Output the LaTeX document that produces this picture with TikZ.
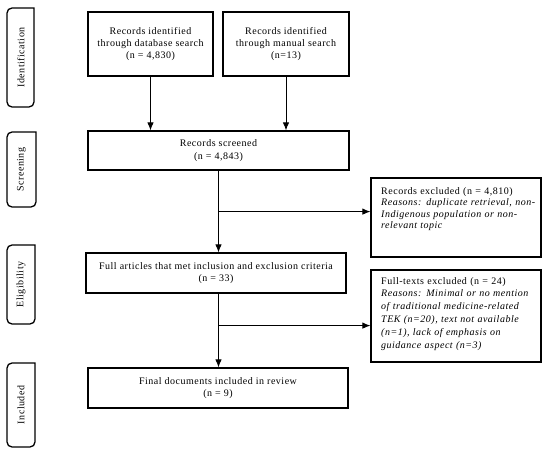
\documentclass[tikz,border=0pt]{standalone}
\usepackage{fontspec}
\setmainfont{Liberation Serif}[LetterSpace=5]
\usetikzlibrary{arrows.meta}
\begin{document}
\begin{tikzpicture}[x=1pt,y=-1pt,
  box/.style={draw, line width=1.2pt, align=center, inner sep=0pt, font=\fontsize{10}{12.8}\selectfont},
  tallbox/.style={box, font=\fontsize{10}{11.8}\selectfont},
  sidebox/.style={line width=1.3pt},
  sidetext/.style={rotate=90, inner sep=0pt, font=\fontsize{10}{12}\selectfont},
  arr/.style={line width=0.9pt, -{Latex[length=8pt,width=6.5pt]}},
  note/.style={align=left, inner sep=0pt, anchor=north west, text width=152pt},
  notea/.style={note, font=\fontsize{10}{11.6}\selectfont},
  noteb/.style={note, font=\fontsize{10}{12.8}\selectfont}]
\useasboundingbox (0,0) rectangle (550,455);
\fill[white] (0,0) rectangle (550,455);

% side labels
\draw[sidebox] (34,8) [rounded corners=5pt] -- (7,8) -- (7,107) -- (34,107) [sharp corners] -- cycle;
\node[sidetext] (lid) at (21,57.5) {Identification};
\draw[sidebox] (36,132) [rounded corners=5pt] -- (7,132) -- (7,207) -- (36,207) [sharp corners] -- cycle;
\node[sidetext] (lsc) at (21.5,169.5) {Screening};
\draw[sidebox] (35,245) [rounded corners=5pt] -- (7,245) -- (7,324) -- (35,324) [sharp corners] -- cycle;
\node[sidetext] (lel) at (21,284.5) {Eligibility};
\draw[sidebox] (35,363) [rounded corners=5pt] -- (7,363) -- (7,447) -- (35,447) [sharp corners] -- cycle;
\node[sidetext] (lin) at (21,405) {Included};

% main boxes
\node[tallbox, minimum width=125pt, minimum height=64pt] (b1) at (150.5,44)
  {Records identified\\through database search\\(n = 4,830)};
\node[tallbox, minimum width=126pt, minimum height=64pt] (b2) at (286,44)
  {Records identified\\through manual search\\(n=13)};
\node[box, minimum width=261pt, minimum height=39pt] (scr) at (218.5,150.5)
  {Records screened\\(n = 4,843)};
\node[box, minimum width=260pt, minimum height=40pt] (full) at (216,273)
  {Full articles that met inclusion and exclusion criteria\\(n = 33)};
\node[box, minimum width=260pt, minimum height=40pt] (fin) at (218,388)
  {Final documents included in review\\(n = 9)};

% exclusion boxes
\node[draw, line width=1.2pt, minimum width=170pt, minimum height=79pt, inner sep=0pt] (ex1) at (456,217.5) {};
\node[notea] (ex1t) at (381,187)
  {Records excluded (n = 4,810)\\
   \makebox[151pt][s]{\itshape Reasons: duplicate retrieval, non-}\\
   \makebox[151pt][s]{\itshape Indigenous population or non-}\\
   \itshape relevant topic};
\node[draw, line width=1.2pt, minimum width=170pt, minimum height=92pt, inner sep=0pt] (ex2) at (456,316) {};
\node[noteb] (ex2t) at (381,277)
  {Full-texts excluded (n = 24)\\
   \itshape Reasons: Minimal or no mention\\
   \itshape of traditional medicine-related\\
   \itshape TEK (n=20), text not available\\
   \itshape (n=1), lack of emphasis on\\
   \itshape guidance aspect (n=3)};

% connectors
\draw[arr] (b1.south) -- (b1.south |- scr.north);
\draw[arr] (b2.south) -- (b2.south |- scr.north);
\draw[arr] (scr.south) -- (scr.south |- full.north);
\path (scr.south) ++(0,41) coordinate (j1);
\draw[arr] (j1) -- (j1 -| ex1.west);
\coordinate (fs) at (scr.south |- full.south);
\path (fs) ++(0,32) coordinate (j2);
\draw[arr] (fs) -- (fs |- fin.north);
\draw[arr] (j2) -- (j2 -| ex2.west);
\end{tikzpicture}
\end{document}
